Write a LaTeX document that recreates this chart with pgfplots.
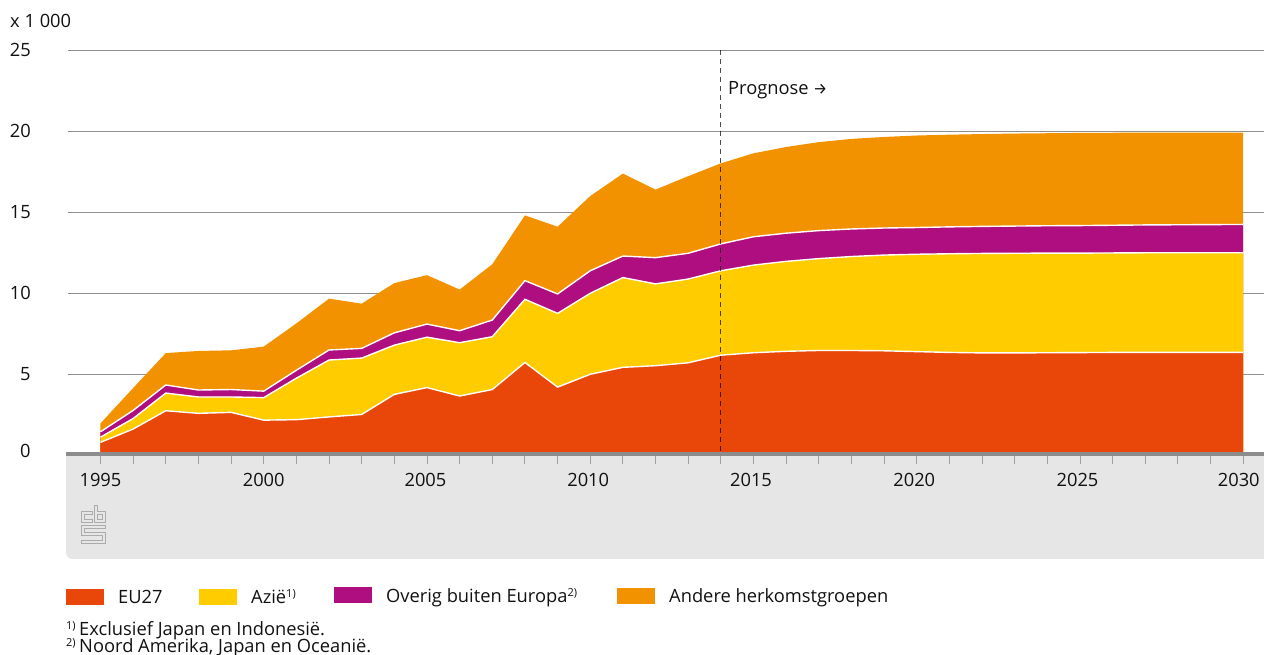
\documentclass[border=0pt]{standalone}
\usepackage{fontspec}
\setmainfont{Open Sans}
\newfontfamily\symfont{Fira Sans}
\usepackage{pgfplots}
\usepackage{pgfplotstable}
\pgfplotsset{compat=1.18}
\definecolor{cred}{HTML}{E9470A}
\definecolor{cyel}{HTML}{FFCC00}
\definecolor{cpur}{HTML}{AF0E80}
\definecolor{cora}{HTML}{F39200}
\definecolor{panel}{HTML}{E6E6E6}
\definecolor{bar}{HTML}{8C8C8C}
\definecolor{gridc}{HTML}{8F8F8F}
\definecolor{tickc}{HTML}{A0A0A0}
\definecolor{txt}{HTML}{111111}
\pgfplotstableread{
yr eu azie overig andere
1995 0.80 0.32 0.33 0.52
1996 1.62 0.65 0.50 1.38
1997 2.75 1.09 0.50 1.97
1998 2.59 1.01 0.43 2.41
1999 2.65 0.95 0.46 2.42
2000 2.17 1.39 0.40 2.75
2001 2.20 2.56 0.49 2.89
2002 2.37 3.51 0.62 3.17
2003 2.52 3.48 0.60 2.76
2004 3.76 3.04 0.76 3.07
2005 4.18 3.11 0.81 3.02
2006 3.66 3.29 0.74 2.54
2007 4.06 3.26 1.03 3.44
2008 5.73 3.90 1.15 4.03
2009 4.21 4.55 1.20 4.15
2010 5.00 5.00 1.39 4.61
2011 5.43 5.54 1.33 5.09
2012 5.53 5.05 1.62 4.20
2013 5.71 5.17 1.59 4.76
2014 6.18 5.21 1.66 4.97
2015 6.33 5.41 1.75 5.15
2016 6.42 5.55 1.74 5.32
2017 6.47 5.67 1.73 5.46
2018 6.47 5.80 1.70 5.56
2019 6.45 5.91 1.67 5.62
2020 6.40 6.01 1.65 5.68
2021 6.35 6.09 1.66 5.69
2022 6.32 6.14 1.67 5.70
2023 6.32 6.15 1.68 5.71
2024 6.33 6.15 1.69 5.71
2025 6.34 6.14 1.70 5.72
2026 6.35 6.14 1.71 5.71
2027 6.35 6.15 1.72 5.70
2028 6.35 6.15 1.73 5.69
2029 6.35 6.15 1.74 5.68
2030 6.35 6.15 1.75 5.67
}\cbsdata
\newcommand{\nsup}[1]{\textsuperscript{\fontsize{11}{11}\selectfont #1}}
\newcommand{\lsh}[1]{\rule{#1pt}{0pt}}
\begin{document}
\fontsize{18.3}{18.3}\selectfont
\begin{tikzpicture}[x=1pt,y=1pt]
\useasboundingbox (0,0) rectangle (1264,655);
% panel
\fill[panel] (66,200) -- (1264,200) -- (1264,96) -- (72,96) arc[start angle=270,end angle=180,radius=6] -- cycle;
\begin{axis}[
  at={(68pt,199.7pt)},anchor=south west,
  scale only axis,width=1196pt,height=405pt,
  xmin=1994.005,xmax=2030.636,ymin=0,ymax=25,
  axis x line*=bottom, axis y line*=left,
  x axis line style={draw=none,-},
  y axis line style={draw=none,-},
  clip=false,
  xtick={1995,2000,...,2030},
  xticklabels={1995,2000,2005\lsh{3},2010\lsh{4},2015\lsh{5},2020\lsh{5},2025\lsh{5},2030\lsh{9}},
  minor x tick num=4,
  ytick={5,10,...,25},
  extra y ticks={0},
  extra y tick style={grid=none,y tick label style={yshift=4pt}},
  ymajorgrids,
  grid style={draw=gridc,line width=1pt},
  tick align=outside,
  major tick length=9pt,minor tick length=9pt,
  xtick style={draw=tickc,line width=0.9pt},
  ytick style={draw=none},
  xticklabel style={font=\fontsize{18.3}{18.3}\selectfont,text=txt,yshift=-3pt},
  yticklabel style={/pgf/number format/assume math mode=true,font=\fontsize{18.3}{18.3}\selectfont,text=txt,anchor=east,xshift=-22pt},
]
\addplot[fill=cora,draw=none] table[x=yr,y expr=\thisrow{eu}+\thisrow{azie}+\thisrow{overig}+\thisrow{andere}] {\cbsdata} \closedcycle;
\addplot[fill=cpur,draw=none] table[x=yr,y expr=\thisrow{eu}+\thisrow{azie}+\thisrow{overig}] {\cbsdata} \closedcycle;
\addplot[fill=cyel,draw=none] table[x=yr,y expr=\thisrow{eu}+\thisrow{azie}] {\cbsdata} \closedcycle;
\addplot[fill=cred,draw=none] table[x=yr,y=eu] {\cbsdata} \closedcycle;
\addplot[draw=white,line width=1.4pt] table[x=yr,y expr=\thisrow{eu}+\thisrow{azie}+\thisrow{overig}] {\cbsdata};
\addplot[draw=white,line width=1.4pt] table[x=yr,y expr=\thisrow{eu}+\thisrow{azie}] {\cbsdata};
\addplot[draw=white,line width=1.4pt] table[x=yr,y=eu] {\cbsdata};
\draw[black,opacity=0.7,line width=1.3pt,dash pattern=on 5pt off 4pt] (axis cs:2014,25) -- (axis cs:2014,0);
\end{axis}
% baseline bar
\fill[bar] (66,199.3) rectangle (1264,203.3);
\node[anchor=base west,inner sep=0pt,text=txt] at (10,627) {x 1 000};
\node[anchor=base west,inner sep=0pt,text=txt] at (728,560) {Prognose};
\node[anchor=base west,inner sep=0pt,text=txt] at (813,560) {\symfont\fontsize{16}{16}\selectfont →};
% logo
\begin{scope}[shift={(0,655)},y=-1pt,draw=black!33,line width=1pt,line join=miter]
\draw (81,512) -- (92,512) -- (92,515) -- (84,515) -- (84,520) -- (92,520) -- (92,523) -- (81,523) -- cycle;
\draw (94,506) -- (97,506) -- (97,512) -- (105.5,512) -- (105.5,523) -- (94,523) -- cycle;
\draw (97.5,515) rectangle (102.5,520);
\draw (81,526) -- (105.5,526) -- (105.5,529) -- (84,529) -- (84,533) -- (105.5,533) -- (105.5,543.5) -- (81,543.5) -- (81,540.5) -- (102.5,540.5) -- (102.5,536) -- (81,536) -- cycle;
\end{scope}
% legend
\fill[cred] (66,50) rectangle (104,66);
\node[anchor=base west,inner sep=0pt,text=txt] at (118,51) {EU27};
\fill[cyel] (199,50) rectangle (237,66);
\node[anchor=base west,inner sep=0pt,text=txt] at (251,51) {Azië\nsup{1)}};
\fill[cpur] (334,52) rectangle (372,68);
\node[anchor=base west,inner sep=0pt,text=txt] at (386,52) {Overig buiten Europa\nsup{2)}};
\fill[cora] (617,51) rectangle (655,67);
\node[anchor=base west,inner sep=0pt,text=txt] at (669,52) {Andere herkomstgroepen};
% notes
\node[anchor=base west,inner sep=0pt,text=txt] at (66,19) {\nsup{1)}\hspace{3pt}Exclusief Japan en Indonesië.};
\node[anchor=base west,inner sep=0pt,text=txt] at (66,2) {\nsup{2)}\hspace{3pt}Noord Amerika, Japan en Oceanië.};
\end{tikzpicture}
\end{document}
